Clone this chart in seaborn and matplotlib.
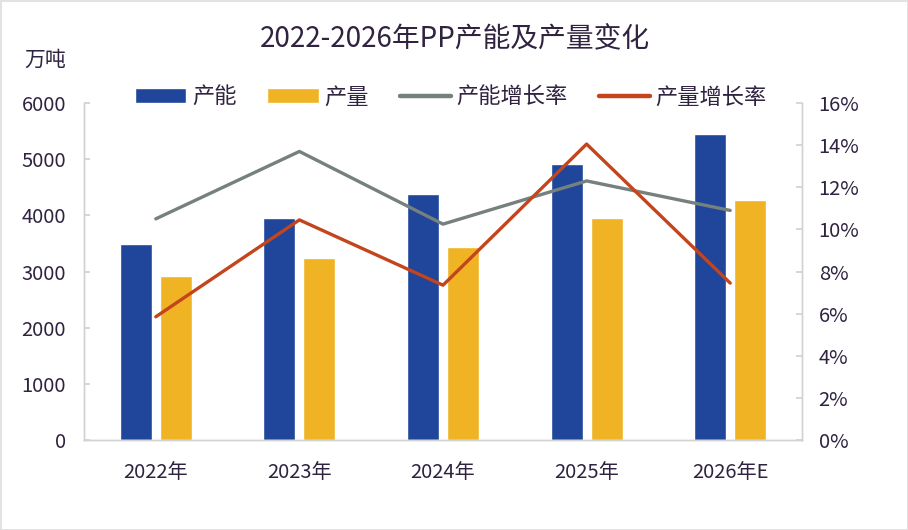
import numpy as np
import pandas as pd
import seaborn as sns
import matplotlib.pyplot as plt
from matplotlib.ticker import FuncFormatter

# data
years = ["2022年", "2023年", "2024年", "2025年", "2026年E"]
capacity = [3490, 3950, 4375, 4910, 5440]        # 产能, 万吨
output = [2915, 3235, 3435, 3950, 4270]          # 产量, 万吨
capacity_growth = [10.5, 13.7, 10.25, 12.3, 10.9]  # 产能增长率, %
output_growth = [5.85, 10.45, 7.35, 14.05, 7.45]   # 产量增长率, %

c_cap = "#1F469B"
c_out = "#F0B324"
c_capg = "#75807F"
c_outg = "#C4441C"
txt = "#2F2340"
grey = "#D2D2D2"

sns.set_theme(style="white")
plt.rcParams["font.family"] = ["Noto Sans CJK SC", "DejaVu Sans"]

df = pd.DataFrame({
    "year": years * 2,
    "value": capacity + output,
    "kind": ["产能"] * len(years) + ["产量"] * len(years),
})

fig = plt.figure(figsize=(9.08, 5.30), dpi=100)
ax = fig.add_axes([84 / 908, 1 - 440 / 530, 718 / 908, 337 / 530])

sns.barplot(data=df, x="year", y="value", hue="kind",
            palette=[c_cap, c_out], width=0.557, gap=0.2,
            saturation=1, ax=ax)
ax.get_legend().remove()
ax.set_xlim(-0.5, 4.5)
ax.set_ylim(0, 6000)
ax.set_yticks(np.arange(0, 6001, 1000))
ax.set_xlabel("")
ax.set_ylabel("")

ax2 = ax.twinx()
xpos = np.arange(len(years))
sns.lineplot(x=xpos, y=capacity_growth, color=c_capg, lw=2.4,
             label="产能增长率", ax=ax2)
sns.lineplot(x=xpos, y=output_growth, color=c_outg, lw=2.4,
             label="产量增长率", ax=ax2)
ax2.set_ylim(0, 16)
ax2.set_yticks(np.arange(0, 17, 2))
ax2.yaxis.set_major_formatter(FuncFormatter(lambda v, p: f"{v:.0f}%"))
ax2.get_legend().remove()

for a in (ax, ax2):
    a.spines["top"].set_visible(False)
    for s in ("left", "right", "bottom"):
        a.spines[s].set_color(grey)
        a.spines[s].set_linewidth(1)
ax.tick_params(axis="y", direction="in", length=4, color=grey,
               labelsize=14.5, labelcolor=txt, pad=13, left=True)
ax.tick_params(axis="x", length=0, labelsize=14.5, labelcolor=txt, pad=16)
ax2.tick_params(axis="y", direction="in", length=4, color=grey,
                labelsize=14.5, labelcolor=txt, pad=12, right=True)

# legend across the top
h1, l1 = ax.get_legend_handles_labels()
h2, l2 = ax2.get_legend_handles_labels()
leg = ax2.legend(h1 + h2, l1 + l2, loc="center",
                 bbox_to_anchor=(0.511, 1.018), ncol=4, frameon=False,
                 fontsize=16, handlelength=2.3, handletextpad=0.25,
                 columnspacing=1.4, borderpad=0, labelcolor=txt)
for ln in leg.get_lines():
    ln.set_linewidth(3.2)

fig.text(455 / 908, 1 - 39 / 530, "2022-2026年PP产能及产量变化",
         ha="center", va="center", fontsize=20, color=txt)
fig.text(45 / 908, 1 - 60 / 530, "万吨", ha="center", va="center",
         fontsize=15, color=txt)

fig.patch.set_edgecolor("#E2E2E2")
fig.patch.set_linewidth(2)

fig.savefig("out.png", dpi=100)
